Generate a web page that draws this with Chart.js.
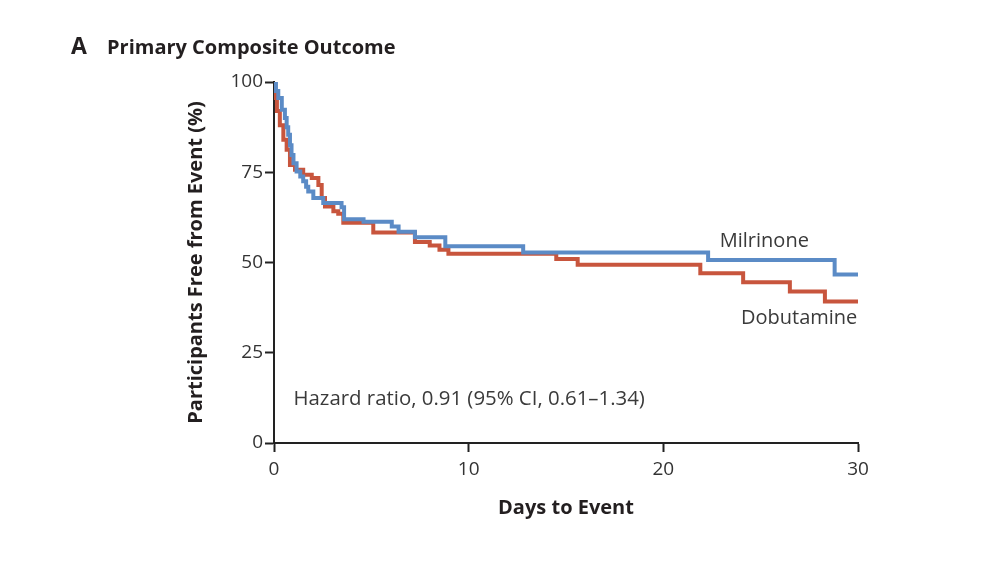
<!DOCTYPE html>
<html>
<head>
<meta charset="utf-8">
<script src="https://cdn.jsdelivr.net/npm/chart.js@4.4.1/dist/chart.umd.min.js"></script>
<style>
  html, body { margin: 0; padding: 0; background: #fff; }
  #wrap { width: 1004px; height: 565px; }
</style>
</head>
<body>
<div id="wrap"><canvas id="km" width="1004" height="565"></canvas></div>
<script>
// Kaplan-Meier steps: day of event, percent free from event after that step
const milrinoneDays = [0, 0.1, 0.22, 0.4, 0.56, 0.65, 0.73, 0.82, 0.9, 1.0, 1.16, 1.35, 1.5, 1.65, 1.76, 2.02, 2.53, 3.47, 3.6, 4.6, 6.05, 6.4, 7.24, 8.8, 12.8, 22.3, 28.8, 30];
const milrinoneFree = [100, 97.5, 95.6, 92.3, 90, 87.5, 85.4, 82.5, 79.8, 77.5, 75.2, 73.8, 72.5, 71, 69.7, 67.9, 66.5, 65.3, 62, 61.3, 60, 58.5, 57, 54.5, 52.8, 50.7, 46.7, 46.7];

const dobutamineDays = [0, 0.05, 0.15, 0.3, 0.48, 0.65, 0.82, 1.08, 1.5, 1.94, 2.28, 2.45, 2.62, 3.05, 3.3, 3.56, 5.1, 7.24, 8.0, 8.5, 8.96, 14.5, 15.6, 21.9, 24.1, 26.5, 28.3, 30];
const dobutamineFree = [100, 95.6, 92, 88, 84, 81.2, 77, 75.7, 74.3, 73.4, 71.5, 67.9, 65.5, 64.2, 63.5, 61, 58.3, 55.7, 54.7, 53.5, 52.4, 51, 49.4, 47, 44.5, 42, 39.2, 39.2];

const xTicks = [0, 10, 20, 30];
const yTicks = [0, 25, 50, 75, 100];

const FONT = "'Open Sans', 'Noto Sans', sans-serif";
const BLUE = '#5b8bc6';
const RED = '#c8553d';

function toPoints(days, vals) {
    return days.map((d, i) => ({ x: d, y: vals[i] }));
}

// title + in-plot labels
const labelsPlugin = {
    id: 'kmLabels',
    afterDraw(chart) {
        const { ctx, scales: { x, y } } = chart;
        ctx.save();
        ctx.textBaseline = 'alphabetic';
        ctx.fillStyle = '#231f20';
        ctx.font = `bold 23px ${FONT}`;
        ctx.fillText('A', 71, 54);
        ctx.font = `bold 20px ${FONT}`;
        ctx.fillText('Primary Composite Outcome', 107, 54);

        ctx.fillStyle = '#3a3a3a';
        ctx.font = `20px ${FONT}`;
        ctx.fillText('Milrinone', x.getPixelForValue(22.9), y.getPixelForValue(54.3));
        ctx.fillText('Dobutamine', x.getPixelForValue(23.99), y.getPixelForValue(33));
        ctx.font = `20.4px ${FONT}`;
        ctx.fillText('Hazard ratio, 0.91 (95% CI, 0.61\u20131.34)', x.getPixelForValue(1.0), y.getPixelForValue(10.5));
        ctx.restore();
    }
};

new Chart(document.getElementById('km'), {
    type: 'line',
    data: {
        datasets: [
            { label: 'Milrinone', data: toPoints(milrinoneDays, milrinoneFree), borderColor: BLUE, borderWidth: 4, stepped: 'before', pointRadius: 0, fill: false },
            { label: 'Dobutamine', data: toPoints(dobutamineDays, dobutamineFree), borderColor: RED, borderWidth: 4, stepped: 'before', pointRadius: 0, fill: false }
        ]
    },
    options: {
        responsive: false,
        animation: false,
        devicePixelRatio: 1,
        layout: { padding: { left: 184, right: 146, top: 82, bottom: 45 } },
        plugins: { legend: { display: false }, tooltip: { enabled: false } },
        scales: {
            x: {
                type: 'linear', min: 0, max: 30,
                afterFit(s) { s.height = 77; },
                afterBuildTicks(s) { s.ticks = xTicks.map(v => ({ value: v })); },
                ticks: { color: '#333', font: { family: FONT, size: 19 }, padding: 6, maxRotation: 0 },
                grid: { drawOnChartArea: false, drawTicks: true, tickLength: 9, tickColor: '#222', tickWidth: 2 },
                border: { display: true, color: '#222', width: 2 },
                title: { display: true, text: 'Days to Event', color: '#231f20', font: { family: FONT, size: 20, weight: 'bold' }, padding: 0 }
            },
            y: {
                min: 0, max: 100,
                afterFit(s) { s.width = 90; },
                afterBuildTicks(s) { s.ticks = yTicks.map(v => ({ value: v })); },
                ticks: { color: '#333', font: { family: FONT, size: 19 }, padding: 2 },
                grid: { drawOnChartArea: false, drawTicks: true, tickLength: 9, tickColor: '#222', tickWidth: 2 },
                border: { display: true, color: '#222', width: 2 },
                title: { display: true, text: 'Participants Free from Event (%)', color: '#231f20', font: { family: FONT, size: 20, weight: 'bold' }, padding: 0 }
            }
        }
    },
    plugins: [labelsPlugin]
});
</script>
</body>
</html>
